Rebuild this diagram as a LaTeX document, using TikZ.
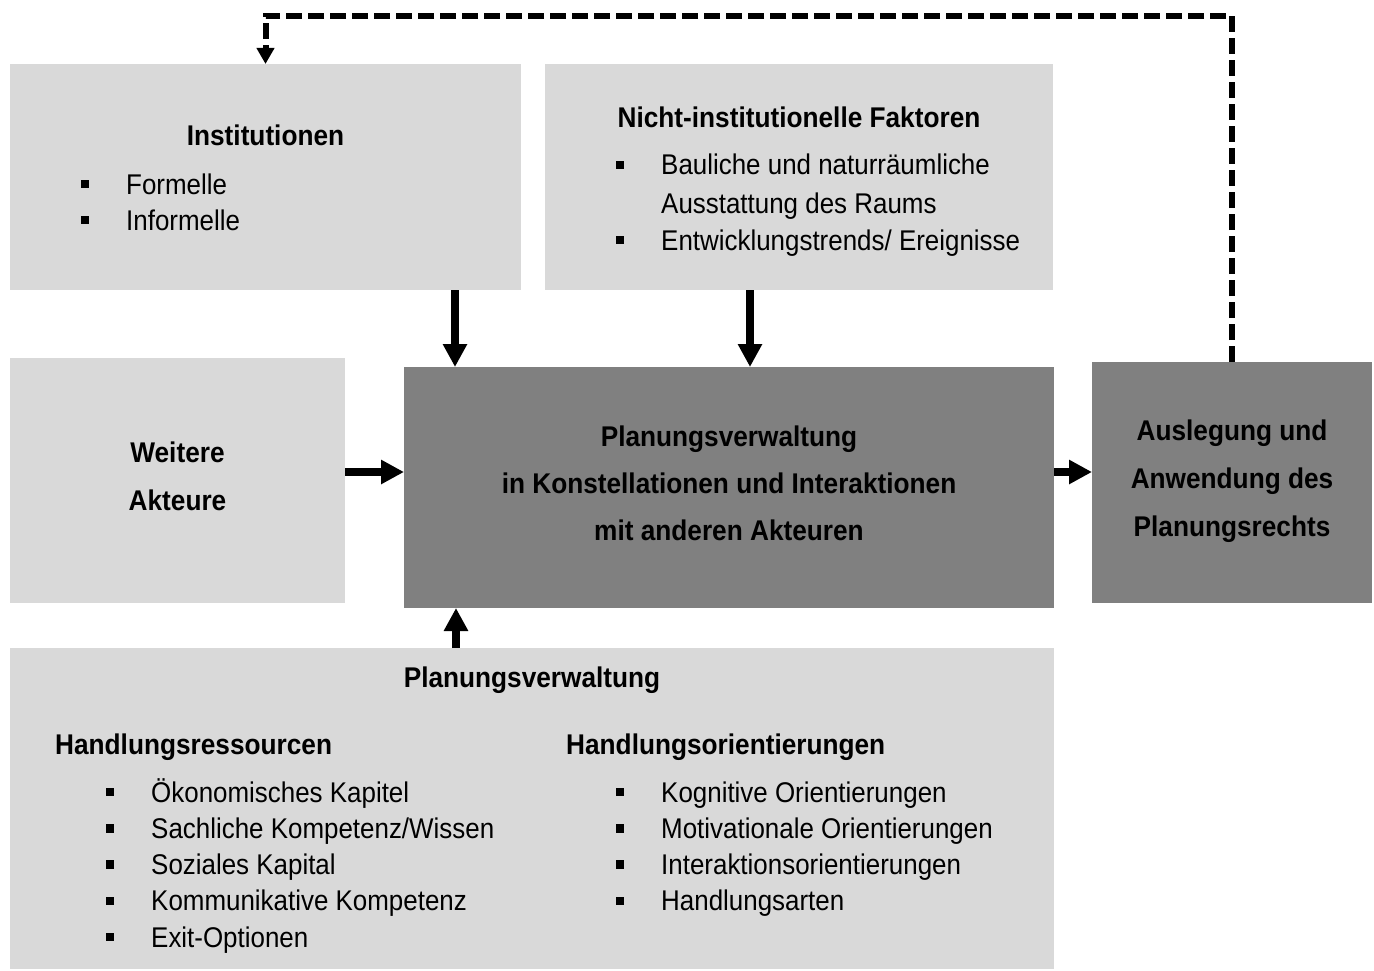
\documentclass[tikz,border=0pt]{standalone}
\usepackage{fontspec}
\setmainfont[FakeStretch=0.91]{Liberation Sans}
\newfontfamily\headfont[FakeStretch=0.92]{Liberation Sans Bold}
\usetikzlibrary{arrows.meta}

\definecolor{boxlight}{HTML}{D9D9D9}
\definecolor{boxdark}{HTML}{808080}

\tikzset{
  lightbox/.style={fill=boxlight, draw=none, inner sep=0pt, outer sep=0pt, anchor=north west},
  darkbox/.style={fill=boxdark, draw=none, inner sep=0pt, outer sep=0pt, anchor=north west},
  txt/.style={inner sep=0pt, anchor=base west},
  ctxt/.style={inner sep=0pt, anchor=base, font=\headfont\fontsize{28.5}{34}\selectfont},
  htxt/.style={inner sep=0pt, anchor=base west, font=\headfont\fontsize{28.5}{34}\selectfont},
  bul/.style={fill=black, draw=none, inner sep=0pt, minimum size=8.5pt, rectangle},
  heavy/.style={line width=8pt, -{Triangle[length=23pt,width=23pt]}},
  feedback/.style={line width=6pt, dash pattern=on 16pt off 6pt,
    -{Triangle[length=16pt,width=17pt]}},
}

\begin{document}
\begin{tikzpicture}[x=1pt, y=-1pt, font=\fontsize{28.5}{34}\selectfont]
\useasboundingbox[fill=white] (0,0) rectangle (1374,971);

% boxes
\node[lightbox, minimum width=511pt, minimum height=226pt] (inst)  at (10,64)   {};
\node[lightbox, minimum width=508pt, minimum height=226pt] (nicht) at (545,64)  {};
\node[lightbox, minimum width=335pt, minimum height=245pt] (weit)  at (10,358)  {};
\node[darkbox,  minimum width=650pt, minimum height=241pt] (ctr)   at (404,367) {};
\node[darkbox,  minimum width=280pt, minimum height=241pt] (ausl)  at (1092,362){};
\node[lightbox, minimum width=1044pt, minimum height=321pt] (bot)  at (10,648)  {};

% Institutionen
\node[ctxt] (instT) at (265.5,146) {Institutionen};
\node[bul] (ib1) at (85,184) {};
\node[txt] (i1) at (126,194) {Formelle};
\node[bul] (ib2) at (85,220) {};
\node[txt] (i2) at (126,230) {Informelle};

% Nicht-institutionelle Faktoren
\node[ctxt] (nichtT) at (799,128) {Nicht-institutionelle Faktoren};
\node[bul] (nb1) at (620,165) {};
\node[txt] (n1) at (661,175) {Bauliche und naturräumliche};
\node[txt] (n1b) at (661,213) {Ausstattung des Raums};
\node[bul] (nb2) at (620,240) {};
\node[txt] (n2) at (661,250) {Entwicklungstrends/ Ereignisse};

% Weitere Akteure
\node[ctxt] (w1) at (177.5,462) {Weitere};
\node[ctxt] (w2) at (177.5,510) {Akteure};

% central box
\node[ctxt] (c1) at (729,446) {Planungsverwaltung};
\node[ctxt] (c2) at (729,493) {in Konstellationen und Interaktionen};
\node[ctxt] (c3) at (729,540) {mit anderen Akteuren};

% Auslegung
\node[ctxt] (a1) at (1232,440) {Auslegung und};
\node[ctxt] (a2) at (1232,488) {Anwendung des};
\node[ctxt] (a3) at (1232,536) {Planungsrechts};

% bottom box
\node[ctxt] (bT) at (532,687) {Planungsverwaltung};
\node[htxt] (hr) at (55,754) {Handlungsressourcen};
\node[htxt] (ho) at (566,754) {Handlungsorientierungen};

\foreach \t [count=\i] in {Ökonomisches Kapitel, Sachliche Kompetenz/Wissen,
    Soziales Kapital, Kommunikative Kompetenz, Exit-Optionen} {
  \pgfmathsetmacro{\yy}{802+36.3*(\i-1)}
  \node[bul] (rb\i) at (110,\yy-10) {};
  \node[txt] (r\i) at (151,\yy) {\t};
}
\foreach \t [count=\i] in {Kognitive Orientierungen, Motivationale Orientierungen,
    Interaktionsorientierungen, Handlungsarten} {
  \pgfmathsetmacro{\yy}{802+36.3*(\i-1)}
  \node[bul] (ob\i) at (620,\yy-10) {};
  \node[txt] (o\i) at (661,\yy) {\t};
}

% connectors
\coordinate (xa) at (455,0);
\coordinate (xb) at (750,0);
\coordinate (xc) at (456,0);
\coordinate (yr) at (0,472);

\draw[heavy] (inst.south -| xa) -- (ctr.north -| xa);
\draw[heavy] (nicht.south -| xb) -- (ctr.north -| xb);
\draw[heavy] (bot.north -| xc) -- (ctr.south -| xc);
\draw[heavy] (weit.east |- yr) -- (ctr.west |- yr);
\draw[heavy] (ctr.east |- yr) -- (ausl.west |- yr);

\draw[feedback] (ausl.north) |- ([yshift=48pt]inst.north) -- (inst.north);
\end{tikzpicture}
\end{document}
